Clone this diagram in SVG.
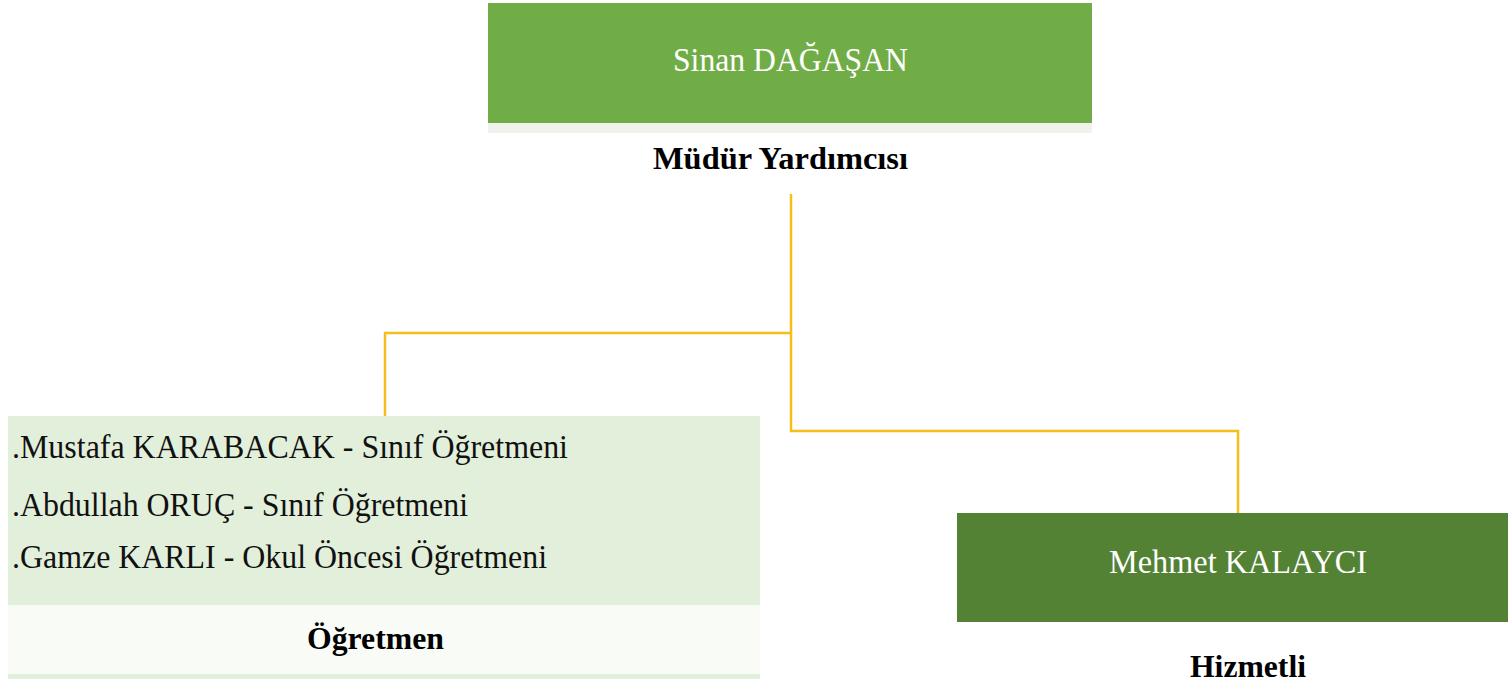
<svg xmlns="http://www.w3.org/2000/svg" width="1508" height="684" viewBox="0 0 1508 684">
<style>
.t{font-family:"Liberation Serif","Times New Roman",serif;font-size:34px}
.w{fill:#ffffff}
.b{font-weight:bold;fill:#000000;font-size:32px}
.k{fill:#111111}
.c{fill:none;stroke:#F5BF1B;stroke-width:2.5}
</style>
<rect width="1508" height="684" fill="#ffffff"/>
<g id="connectors">
<polyline class="c" points="791,194 791,333 385,333 385,416"/>
<polyline class="c" points="791,333 791,431 1238,431 1238,513"/>
</g>
<g id="node-sinan">
<rect x="488" y="3" width="604" height="120" fill="#70AD47"/>
<rect x="488" y="123" width="604" height="10" fill="#EFF3EB"/>
<text class="t w" x="673" y="71" textLength="235" lengthAdjust="spacingAndGlyphs">Sinan DAĞAŞAN</text>
<text class="t b" x="653" y="169" textLength="255" lengthAdjust="spacingAndGlyphs">Müdür Yardımcısı</text>
</g>
<g id="node-ogretmen">
<rect x="8" y="416" width="752" height="189" fill="#E2EFDA"/>
<rect x="8" y="605" width="752" height="69" fill="#F8FBF6"/>
<rect x="8" y="674" width="752" height="5" fill="#E2EFDA"/>
<text class="t k" x="12" y="458" textLength="556" lengthAdjust="spacingAndGlyphs">.Mustafa KARABACAK - Sınıf Öğretmeni</text>
<text class="t k" x="12" y="516" textLength="456" lengthAdjust="spacingAndGlyphs">.Abdullah ORUÇ - Sınıf Öğretmeni</text>
<text class="t k" x="12" y="568" textLength="535" lengthAdjust="spacingAndGlyphs">.Gamze KARLI - Okul Öncesi Öğretmeni</text>
<text class="t b" x="307" y="649" textLength="137" lengthAdjust="spacingAndGlyphs">Öğretmen</text>
</g>
<g id="node-mehmet">
<rect x="957" y="513" width="551" height="109" fill="#548235"/>
<text class="t w" x="1109" y="573" textLength="258" lengthAdjust="spacingAndGlyphs">Mehmet KALAYCI</text>
<text class="t b" x="1190" y="677" textLength="116" lengthAdjust="spacingAndGlyphs">Hizmetli</text>
</g>
</svg>
